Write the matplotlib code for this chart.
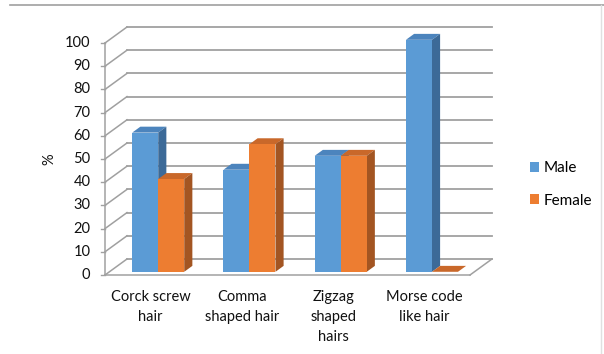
import matplotlib
matplotlib.use('Agg')
import matplotlib.pyplot as plt
from matplotlib.patches import Patch
from matplotlib.lines import Line2D

categorias = ["Corck screw\nhair", "Comma\nshaped hair", "Zigzag\nshaped\nhairs", "Morse code\nlike hair"]
male = [60, 44, 50, 100]
female = [40, 55, 50, 0]
ticks = list(range(0, 101, 10))

# colores tipo Excel: frente, techo, lateral
azul = ('#5b9bd5', '#4c84bd', '#3c6a98')
naranja = ('#ed7d31', '#c9682a', '#a35522')

plt.rcParams['font.family'] = ['Lato', 'DejaVu Sans']

fig = plt.figure(figsize=(6.04, 3.54), dpi=100)
ax = fig.add_axes([105 / 604, 79 / 354, 365 / 604, 232 / 354])
ax.set_xlim(-0.5, 3.5)
ax.set_ylim(0, 100)
ax.axis('off')

# desplazamiento de profundidad (pared del fondo)
DX, DY = 0.241, 6.9


def proy(x, y, d):
    return x + d * DX, y + d * DY


gris = '#a0a0a0'
x0, x1 = -0.5, 3.5

# lineas de la pared del fondo y pared izquierda
for v in ticks:
    bx0, by = proy(x0, v, 1)
    bx1, _ = proy(x1, v, 1)
    ax.plot([bx0, bx1], [by, by], color=gris, lw=1.3, clip_on=False, zorder=1)
    ax.plot([x0, bx0], [v, by], color=gris, lw=1.1, clip_on=False, zorder=1)
    ax.plot([x0 - 0.045, x0], [v, v], color=gris, lw=1.0, clip_on=False, zorder=1)

# eje vertical frontal y piso
ax.plot([x0, x0], [0, 100], color=gris, lw=1.1, clip_on=False, zorder=1)
ax.plot([x0, x1], [0, 0], color=gris, lw=1.1, clip_on=False, zorder=1)
rx, ry = proy(x1, 0, 1)
ax.plot([x1, rx], [0, ry], color=gris, lw=1.1, clip_on=False, zorder=1)

ancho = 0.285
d0, d1 = 0.2, 0.57
desp = 0.035


def barra(xa, xb, h, col, z):
    fx0, fy0 = proy(xa, 0, d0)
    fx1, _ = proy(xb, 0, d0)
    fyh = proy(xa, h, d0)[1]
    bx0, byh = proy(xa, h, d1)
    bx1, by0 = proy(xb, 0, d1)
    # techo
    ax.fill([fx0, fx1, bx1, bx0], [fyh, fyh, byh, byh], color=col[1], lw=0,
            clip_on=False, zorder=z)
    if h > 0:
        # lateral derecho
        ax.fill([fx1, bx1, bx1, fx1], [fy0, by0, byh, fyh], color=col[2], lw=0,
                clip_on=False, zorder=z)
        # frente
        ax.fill([fx0, fx1, fx1, fx0], [fy0, fy0, fyh, fyh], color=col[0], lw=0,
                clip_on=False, zorder=z)


for i in range(len(categorias)):
    c = i + desp
    barra(c - ancho, c, male[i], azul, 3 + 2 * i)
    barra(c, c + ancho, female[i], naranja, 4 + 2 * i)

# etiquetas del eje y
for v in ticks:
    ax.text(x0 - 0.16, v, str(v), ha='right', va='center', fontsize=10.5,
            color='#111111', clip_on=False)
ax.text(-1.11, 50, '%', rotation=90, ha='center', va='center', fontsize=10.5,
        color='#111111')

# etiquetas de categorias
for i, cat in enumerate(categorias):
    ax.text(i, -6.5, cat, ha='center', va='top', fontsize=10.5, color='#111111',
            linespacing=1.55, clip_on=False)

handles = [Patch(facecolor=azul[0], label='Male'),
           Patch(facecolor=naranja[0], label='Female')]
fig.legend(handles=handles, loc='center left', bbox_to_anchor=(516 / 604, 1 - 184.5 / 354),
           frameon=False, fontsize=11, handlelength=0.6, handleheight=0.6,
           handletextpad=0.3, labelspacing=1.2)

# marco superior y derecho
fig.add_artist(Line2D([10 / 604, 1], [1 - 4.5 / 354, 1 - 4.5 / 354], color='#a0a0a0', lw=1.2))
fig.add_artist(Line2D([600.5 / 604, 600.5 / 604], [0, 1 - 4.5 / 354], color='#e0e0e0', lw=1.0))

plt.savefig('out.png', dpi=100)
plt.close()
